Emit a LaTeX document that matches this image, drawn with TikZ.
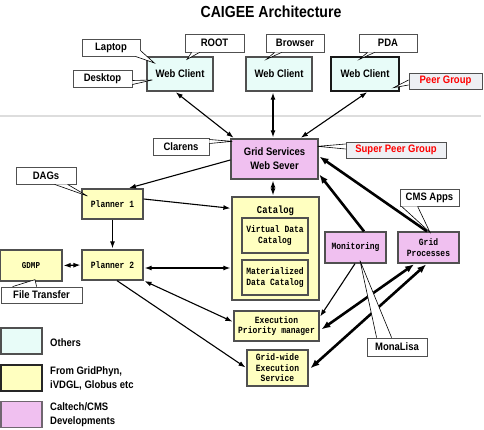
\documentclass[tikz,border=0pt]{standalone}
\usepackage{fontspec}
\setmainfont{Liberation Sans}
\newfontfamily\sflab{Liberation Sans Bold}[FakeStretch=0.88]
\newfontfamily\monof{Liberation Mono Bold}[FakeStretch=0.84]
\usetikzlibrary{arrows.meta,calc}
\definecolor{cyanbox}{HTML}{E8FCF8}
\definecolor{yelbox}{HTML}{FFFFC0}
\definecolor{pinkbox}{HTML}{F0C0F0}
\definecolor{peerbox}{HTML}{EEF0F4}
\definecolor{bordr}{HTML}{505050}
\definecolor{sepline}{HTML}{DDDDDD}
\newcommand\ptr[3]{\fill[white] (#1) -- (#3) -- (#2) -- cycle; \draw[line width=0.6pt] (#1) -- (#3) -- (#2);}
\begin{document}
\begin{tikzpicture}[x=1pt,y=-1pt,
 sz/.style 2 args={minimum width=#1pt,minimum height=#2pt},
 box/.style={draw=bordr,line width=1.3pt,inner sep=0pt,align=center,anchor=center},
 sanslab/.style={font=\sflab\fontsize{10.8}{14}\selectfont},
 monolab/.style={font=\monof\fontsize{9.5}{10.5}\selectfont},
 cbox/.style={box,fill=cyanbox,sanslab},
 ybox/.style={box,fill=yelbox,monolab},
 pbox/.style={box,fill=pinkbox,monolab},
 note/.style={draw=bordr,line width=0.8pt,fill=white,inner sep=0pt,align=center,sanslab},
 conn/.style={line width=1.1pt,-{Latex[length=7pt,width=5pt]},shorten >=1pt},
 bconn/.style={line width=1.1pt,{Latex[length=7pt,width=5pt]}-{Latex[length=7pt,width=5pt]},shorten >=1pt,shorten <=1pt},
 tconn/.style={line width=2.6pt,-{Latex[length=9pt,width=7pt]},shorten >=1pt},
 tbconn/.style={line width=2.6pt,{Latex[length=9pt,width=7pt]}-{Latex[length=9pt,width=7pt]},shorten >=1pt,shorten <=1pt},
 legtext/.style={anchor=west,align=left,inner sep=0pt,sanslab}
]
\useasboundingbox (0,0) rectangle (484,430);

% title
\node[font=\sflab\fontsize{16}{18}\selectfont] (title) at (271,12) {CAIGEE Architecture};

% separator
\draw[sepline,line width=2pt] (0,116) -- (481,116);

% web clients
\node[cbox,sz={66}{34}] (wc1) at (180,74) {Web Client};
\node[cbox,sz={66}{34}] (wc2) at (279,74) {Web Client};
\node[cbox,sz={68}{34},draw=black!90] (wc3) at (365,74) {Web Client};

% grid services
\node[box,fill=pinkbox,sanslab,sz={87}{40}] (gs) at (274.5,159) {Grid Services\\Web Sever};

% planners
\node[ybox,sz={61}{30}] (p1) at (112.5,204) {Planner 1};
\node[ybox,sz={61}{30}] (p2) at (112.5,265) {Planner 2};
\node[ybox,sz={62}{31},font=\monof\fontsize{9}{10}\selectfont] (gdmp) at (31,265.5) {GDMP};

% catalog
\node[ybox,sz={87}{103}] (cat) at (275.5,248.5) {};
\node[monolab,font=\monof\fontsize{10.5}{11}\selectfont] (catlab) at (275.5,211) {Catalog};
\node[ybox,sz={66}{35}] (vdc) at (275,235.5) {Virtual Data\\Catalog};
\node[ybox,sz={66}{35}] (mdc) at (275,277.5) {Materialized\\Data Catalog};

\node[ybox,sz={85}{30}] (epm) at (276.5,326) {Execution\\Priority manager};
\node[ybox,sz={61}{36}] (gwe) at (277.5,368) {Grid-wide\\Execution\\Service};

\node[pbox,sz={61}{31}] (mon) at (355.5,247.5) {Monitoring};
\node[pbox,sz={61}{31}] (gp) at (428.5,247.5) {Grid\\Processes};

% connectors
\draw[bconn] ($(wc1.south)+(-5,0)$) -- ($(gs.north west)+(4,0)$);
\draw[bconn] ($(wc2.south)+(-6,0)$) -- ($(gs.north)+(-1.5,0)$);
\draw[bconn] ($(wc3.south)+(3,0)$) -- ($(gs.north)+(25.5,0)$);
\draw[conn] ($(gs.west)+(0,1)$) -- ($(p1.north)+(15.5,0)$);
\draw[conn] ($(p1.east)+(0,-5)$) -- ($(cat.north west)+(0,12)$);
\draw[conn] (p1.south) -- (p2.north);
\draw[bconn] (gdmp.east) -- (p2.west);
\draw[bconn] ($(p2.east)+(0,3)$) -- ($(cat.west)+(0,19.5)$);
\draw[bconn] (p2.south east) -- ($(epm.west)+(0,-4)$);
\draw[conn] ($(p2.south)+(4.5,0)$) -- (gwe.west);
\draw[bconn] ($(gs.south)+(-1.5,0)$) -- ($(cat.north)+(-2.5,0)$);
\draw[tconn] ($(mon.north)+(8.5,0)$) -- ($(gs.south east)+(0,-6)$);
\draw[tconn] ($(gp.north)+(-1.5,0)$) -- ($(gs.east)+(0,-3)$);
\draw[conn] ($(mon.south)+(-0.5,0)$) -- ($(epm.north east)+(0,7)$);
\draw[tbconn] ($(gp.south)+(-13.5,0)$) -- ($(epm.east)+(1,4)$);
\draw[tbconn] ($(gp.south)+(-1.5,0)$) -- ($(gwe.east)+(1,1)$);

% callouts
\node[note,sz={58}{17}] (laptop) at (111,47.5) {Laptop};
\node[note,sz={59}{17}] (desktop) at (102.5,78.5) {Desktop};
\node[note,sz={59}{18}] (root) at (214.5,43) {ROOT};
\node[note,sz={58}{18}] (browser) at (295,43) {Browser};
\node[note,sz={58}{18}] (pda) at (388,43) {PDA};
\node[note,sz={73}{16},fill=peerbox,text=red] (peer) at (445.5,81) {Peer Group};
\node[note,sz={56}{17}] (clarens) at (181,146.5) {Clarens};
\node[note,sz={100}{16},fill=peerbox,text=red] (super) at (396,150) {Super Peer Group};
\node[note,sz={60}{17}] (dags) at (46,175.5) {DAGs};
\node[note,sz={81}{16}] (ft) at (41.5,295) {File Transfer};
\node[note,sz={59}{17}] (cms) at (429.5,197.5) {CMS Apps};
\node[note,sz={60}{18}] (mona) at (397,347) {MonaLisa};

\ptr{$(laptop.south east)+(-5,0)$}{$(laptop.east)+(0,3)$}{$(wc1.west)+(8,-11)$}
\ptr{$(desktop.east)+(0,2)$}{$(desktop.east)+(0,6)$}{$(wc1.west)+(6,6)$}
\ptr{$(root.south west)+(7,0)$}{$(root.south west)+(15,0)$}{$(wc1.north)+(7,3)$}
\ptr{$(browser.south west)+(9,0)$}{$(browser.south west)+(16,0)$}{$(wc2.north west)+(21,3)$}
\ptr{$(pda.south west)+(9,0)$}{$(pda.south west)+(16,0)$}{$(wc3.north west)+(29,3)$}
\ptr{$(peer.west)+(0,-1)$}{$(peer.west)+(0,4)$}{$(wc3.south east)+(-6,-4)$}
\ptr{$(clarens.east)+(0,-7)$}{$(clarens.east)+(0,-3)$}{$(gs.north west)+(2,3)$}
\ptr{$(super.west)+(0,-6)$}{$(super.west)+(0,-1)$}{$(gs.north east)+(-1,8)$}
\ptr{$(dags.south west)+(39,0)$}{$(dags.south west)+(52,0)$}{$(p1.west)+(6,-8)$}
\ptr{$(ft.north west)+(12,0)$}{$(ft.north west)+(36,0)$}{$(gdmp.south)+(4,-2)$}
\ptr{$(cms.south west)+(2,0)$}{$(cms.south west)+(18,0)$}{$(gp.north)+(1.5,1)$}
\ptr{$(mona.north west)+(10,0)$}{$(mona.north west)+(25,0)$}{$(mon.south)+(4.5,-3)$}

% legend
\node[box,fill=cyanbox,sz={41}{26}] (leg1) at (21.5,341) {};
\node[box,fill=yelbox,draw=black!85,sz={41}{26}] (leg2) at (21.5,378) {};
\node[box,fill=pinkbox,draw=bordr!80!pinkbox,sz={41}{26}] (leg3) at (21.5,414.5) {};
\node[legtext] (leg1t) at (50,343) {Others};
\node[legtext] (leg2t) at (50,378) {From GridPhyn,\\iVDGL, Globus etc};
\node[legtext] (leg3t) at (50,415) {Caltech/CMS\\Developments};
\end{tikzpicture}
\end{document}
